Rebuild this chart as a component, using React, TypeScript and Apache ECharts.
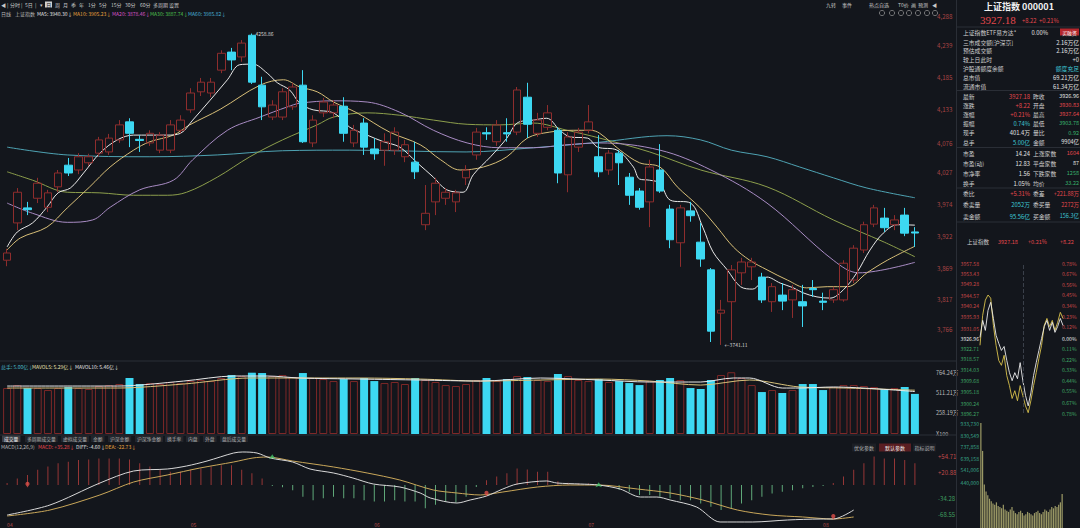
import React, { useEffect, useRef } from "react";
import * as echarts from "echarts";

const BG = "#13161c";
const UP = "#8e2d2d";
const DOWN = "#3dd8f2";
const RED = "#e5484d";
const GREEN = "#38b36c";
const TEAL = "#3ec6d6";
const WHITE = "#e2e2e2";
const GRAY = "#b8b8b8";
const FONT = "'Noto Sans CJK SC', 'Noto Sans', sans-serif";

// daily candles: [open, close, low, high]
const candles: number[][] = [
  [3882, 3894, 3872, 3901], [3944, 3995, 3932, 4002], [3969, 3966, 3957, 3979], [3985, 4010, 3977, 4019],
  [3970, 3994, 3962, 3999], [4004, 4027, 3995, 4032], [4040, 4027, 4022, 4052], [4032, 4054, 4025, 4060],
  [4044, 4054, 4039, 4059], [4060, 4082, 4054, 4087], [4062, 4085, 4057, 4092], [4082, 4107, 4077, 4115],
  [4112, 4093, 4070, 4118], [4083, 4081, 4062, 4090], [4077, 4093, 4072, 4098], [4065, 4090, 4060, 4095],
  [4065, 4107, 4060, 4115], [4098, 4115, 4093, 4123], [4132, 4160, 4127, 4168], [4162, 4178, 4155, 4185],
  [4160, 4178, 4153, 4185], [4198, 4226, 4193, 4231], [4228, 4215, 4198, 4235], [4220, 4243, 4212, 4248],
  [4256, 4178, 4175, 4258.86], [4173, 4137, 4115, 4187], [4120, 4140, 4115, 4148], [4120, 4162, 4115, 4168],
  [4137, 4170, 4132, 4177], [4173, 4079, 4077, 4198], [4077, 4115, 4070, 4123], [4127, 4145, 4120, 4152],
  [4127, 4140, 4118, 4148], [4138, 4093, 4079, 4153], [4077, 4098, 4070, 4107], [4110, 4070, 4057, 4118],
  [4067, 4059, 4049, 4085], [4065, 4079, 4039, 4093], [4065, 4095, 4057, 4103], [4054, 4074, 4045, 4082],
  [4045, 4029, 4017, 4079], [3941, 3960, 3932, 4007], [3979, 4010, 3957, 4019], [3985, 3995, 3974, 4002],
  [3979, 3994, 3962, 3999], [4019, 4032, 4007, 4040], [4057, 4095, 4049, 4102], [4094, 4092, 4082, 4103],
  [4079, 4107, 4072, 4115], [4094, 4092, 4079, 4118], [4095, 4165, 4090, 4170], [4153, 4108, 4085, 4177],
  [4093, 4115, 4087, 4127], [4103, 4127, 4098, 4140], [4098, 4027, 4010, 4103], [4024, 4087, 3995, 4095],
  [4070, 4095, 4062, 4102], [4098, 4112, 4093, 4140], [4054, 4029, 4020, 4090], [4032, 4060, 4024, 4065],
  [4060, 4044, 4007, 4065], [4020, 3990, 3974, 4027], [3997, 3970, 3966, 4002], [3979, 4037, 3937, 4049],
  [4032, 3997, 3994, 4075], [3967, 3916, 3902, 3974], [3911, 3969, 3871, 3974], [3964, 3956, 3946, 3979],
  [3912, 3884, 3871, 3944], [3866, 3764, 3746, 3869], [3794, 3799, 3741.11, 3816], [3813, 3866, 3749, 3874],
  [3861, 3879, 3841, 3886], [3871, 3879, 3849, 3886], [3854, 3816, 3811, 3861], [3813, 3838, 3796, 3844],
  [3824, 3814, 3799, 3844], [3816, 3833, 3786, 3841], [3813, 3806, 3771, 3841], [3835, 3833, 3821, 3849],
  [3814, 3812, 3799, 3828], [3816, 3833, 3811, 3838], [3816, 3877, 3813, 3882], [3849, 3902, 3844, 3907],
  [3899, 3941, 3894, 3946], [3942, 3969, 3937, 3974], [3952, 3936, 3929, 3969], [3941, 3949, 3932, 3957],
  [3957, 3927, 3922, 3969], [3929, 3927.18, 3904, 3937],
];

// moving averages: [candle index, value]
const ma5: number[][] = [[0, 3904], [1, 3929], [2.5, 3944], [3.9, 3970], [5, 3994], [6.2, 4002], [7.5, 4027], [9.1, 4060], [10.8, 4082], [12.4, 4090], [14, 4090], [15.7, 4090], [17, 4093], [18.2, 4115], [19.9, 4148], [21.6, 4182], [22.8, 4207], [24.1, 4208], [25.5, 4193], [26.5, 4177], [27.7, 4165], [28.7, 4143], [30, 4132], [32, 4127], [33.6, 4103], [35.3, 4090], [36.9, 4079], [38.5, 4070], [40.2, 4044], [41.8, 4020], [43.1, 3999], [44.7, 3995], [45.7, 4024], [47.4, 4054], [49, 4085], [50, 4110], [51.6, 4115], [52.9, 4118], [54.2, 4098], [55.2, 4087], [56.9, 4085], [57.9, 4070], [59.8, 4065], [61.4, 4037], [62, 4017], [63, 4015], [64, 4010], [65, 3982], [67, 3977], [68.2, 3937], [69.2, 3896], [70.6, 3866], [71.9, 3838], [73.1, 3834], [74.5, 3854], [75.8, 3844], [77.1, 3836], [78, 3828], [79.4, 3821], [80.7, 3819], [82, 3833], [83.3, 3861], [84.6, 3899], [85.9, 3927], [87.3, 3941], [89, 3940.3]];
const ma10: number[][] = [[0, 3899], [1.3, 3919], [3.9, 3937], [5.9, 3969], [8.1, 4004], [10.1, 4037], [12.4, 4065], [14, 4079], [16.3, 4090], [17.9, 4107], [20.9, 4133], [24.8, 4173], [27.1, 4182], [28.7, 4170], [30.4, 4162], [32, 4145], [34.3, 4127], [37.5, 4095], [40.5, 4074], [42.5, 4049], [44.4, 4032], [46.7, 4037], [49, 4054], [51, 4085], [53.2, 4095], [55.5, 4098], [57.2, 4098], [58.1, 4093], [60.1, 4065], [62, 4044], [64, 4037], [65.7, 4004], [67.9, 3970], [69.6, 3937], [71.2, 3904], [72.8, 3882], [74.5, 3866], [76.5, 3849], [78.4, 3836], [80.4, 3838], [82.4, 3838], [84.3, 3861], [86.3, 3882], [89, 3905.23]];
const ma20: number[][] = [[0, 3977], [2.5, 3960], [5.9, 3945], [8.4, 3949], [10.1, 3970], [13, 3999], [16.3, 4015], [18.2, 4049], [21.6, 4098], [24.8, 4120], [27.5, 4137], [28.7, 4143], [32, 4147], [35.3, 4145], [38.5, 4128], [41.8, 4098], [45.1, 4077], [48.3, 4069], [51.6, 4069], [54.9, 4074], [58.1, 4077], [64, 4065], [69, 4032], [74.5, 3977], [81, 3882], [83.5, 3861], [89, 3878.46]];
const ma30: number[][] = [[0, 4029], [2.5, 4015], [5.9, 3995], [9.1, 3994], [12.4, 3990], [15.7, 3990], [17.6, 3995], [20.6, 4020], [23.8, 4054], [27, 4082], [30.4, 4107], [32, 4120], [35.3, 4127], [38.5, 4123], [41.8, 4115], [45.1, 4108], [48.3, 4107], [51.6, 4110], [54.9, 4098], [58.1, 4085], [63, 4062], [68, 4032], [74.5, 4004], [81, 3949], [86, 3912], [89, 3887.74]];
const ma60: number[][] = [[0, 4070], [5.9, 4057], [14, 4054], [20.6, 4057], [27, 4064], [33.6, 4065], [45, 4062], [51.6, 4069], [58, 4078], [64.7, 4089], [68, 4082], [71, 4065], [74.5, 4054], [77.7, 4037], [81, 4019], [84.3, 4002], [89, 3985.82]];

const priceTicks = [3766, 3817, 3869, 3922, 3974, 4027, 4076, 4133, 4185, 4239, 4288];

// volume (万手 x100)
const volumes = [573, 610, 573, 573, 548, 573, 586, 573, 561, 598, 610, 623, 698, 623, 635, 623, 648, 635, 660, 673, 660, 698, 735, 723, 770, 760, 723, 735, 710, 760, 698, 685, 660, 685, 660, 698, 660, 635, 648, 623, 698, 673, 648, 610, 598, 623, 673, 698, 660, 685, 723, 710, 673, 660, 748, 723, 673, 660, 685, 648, 660, 635, 610, 660, 673, 698, 673, 573, 561, 673, 735, 770, 698, 610, 523, 548, 511, 548, 623, 623, 548, 586, 610, 610, 598, 586, 561, 573, 586, 500];
const mavol5: number[][] = [[0, 598], [10.8, 598], [17.3, 660], [22.2, 723], [25.5, 723], [28.7, 698], [34.6, 685], [40.5, 673], [46.4, 660], [52.3, 698], [58.1, 673], [63, 648], [68, 648], [71.2, 698], [72.8, 698], [76, 573], [77.7, 573], [81, 586], [89, 529]];
const mavol10: number[][] = [[0, 573], [10.8, 573], [17.3, 623], [23.8, 698], [28.7, 698], [34.6, 698], [40.5, 685], [46.4, 660], [52.3, 673], [58.1, 685], [63, 660], [68, 610], [72.8, 673], [77.7, 586], [82.3, 573], [89, 546]];
const volTicks = [0, 258.19, 511.21, 764.24];
const volTickLabels = ["X100", "258.19万", "511.21万", "764.24万"];

// MACD
const macdBars = [4, 14, 21, 32, 39, 46, 49, 53, 54, 56, 56, 56, 54, 46, 39, 32, 28, 28, 32, 35, 39, 42, 42, 32, 25, 14, -2, -5, -11, -25, -32, -28, -25, -28, -28, -32, -35, -35, -32, -35, -35, -49, -42, -35, -37, -25, -4, 10, 18, 25, 35, 33, 28, 28, 8, 5, 3, 3, -1, -3, -10, -14, -21, -21, -25, -28, -32, -32, -39, -46, -53, -49, -39, -32, -25, -18, -14, -11, -7, -4, -2, 4, 18, 32, 46, 60, 56, 56, 53, 46];
const diffLine: number[][] = [[0, -63.4], [4.2, -42.3], [9.1, 4.2], [12.4, 29.6], [15.7, 33.8], [17.6, 40.2], [19.6, 50.7], [22.2, 67.6], [23.1, 69.8], [24.5, 67.6], [25.8, 57.1], [28, 48.6], [29.7, 33.8], [32, 25.4], [33.9, 14.8], [35.9, 2.1], [38.5, -4.2], [40.5, -16.9], [41.5, -27.5], [44.1, -38.1], [45.4, -31.7], [47, -23.3], [48.6, -8.5], [50, 2.1], [52.9, 8.5], [53.9, 4.2], [56.2, 2.1], [58, 0], [60.1, -8.5], [62.1, -25.4], [63.7, -25.4], [65, -31.7], [67.6, -46.5], [69.9, -78.2], [73.1, -78.2], [76.5, -74], [79.7, -71.9], [81, -71.9], [83, -52.9]];
const deaLine: number[][] = [[0, -65.5], [4.2, -52.9], [9.1, -21.1], [12.4, 6.3], [15.7, 21.1], [18.9, 35.9], [22.2, 48.6], [24.1, 57.1], [25.5, 59.2], [28, 50.7], [32, 38.1], [35.3, 25.4], [38.5, 10.6], [41.8, -10.6], [44.1, -16.9], [46.4, -21.1], [48.6, -14.8], [52, -4.2], [55.2, 0], [58, 0], [61.8, -8.5], [65, -16.9], [68.2, -31.7], [71.6, -52.9], [74.8, -63.4], [78, -67.6], [81, -71.9], [83, -67.6]];
const goldSignals: number[][] = [[2, -6], [47, -25], [81, -74]];
const deadSignals: number[][] = [[26, 65], [58, 6]];
const macdTicks = [54.71, 20.88, -34.28, -68.55];
const macdTickLabels = ["+54.71", "+20.88", "-34.28", "-68.55"];
const monthIdx = [0, 18, 36, 57, 80];
const monthLabels = ["04", "05", "06", "07", "08"];

// intraday
const intradayPrice = [3927.2, 3934.2, 3930.1, 3938.3, 3941.6, 3935.0, 3928.1, 3924.8, 3921.9, 3923.5, 3917.8, 3912.8, 3909.5, 3912.8, 3910.3, 3916.9, 3909.5, 3903.4, 3899.2, 3904.5, 3911.6, 3916.9, 3921.9, 3926.8, 3931.7, 3934.2, 3930.1, 3933.4, 3929.3, 3931.7, 3935.0, 3932.1];
const intradayAvg = [3924.0, 3936.3, 3942.5, 3944.6, 3943.3, 3932.2, 3924.0, 3917.8, 3915.8, 3919.9, 3911.6, 3907.5, 3902.2, 3905.4, 3901.3, 3907.5, 3903.4, 3899.2, 3896.4, 3901.3, 3907.5, 3912.8, 3918.6, 3924.0, 3932.2, 3935.0, 3931.7, 3934.2, 3930.1, 3933.4, 3937.5, 3935.0];
const intradayVol = [933000, 700000, 420000, 360000, 330000, 300000, 280000, 260000, 250000, 270000, 240000, 230000, 220000, 250000, 210000, 200000, 190000, 210000, 230000, 200000, 180000, 170000, 190000, 200000, 180000, 160000, 170000, 190000, 180000, 170000, 160000, 180000, 190000, 200000, 180000, 170000, 190000, 210000, 200000, 190000, 210000, 230000, 220000, 240000, 230000, 250000, 270000, 340000];
const intradayTicks = [3957.58, 3953.43, 3949.28, 3944.57, 3940.24, 3935.93, 3931.05, 3926.96, 3922.71, 3918.57, 3914.03, 3909.68, 3905.18, 3900.24, 3896.27];
const pctTicks = [0.78, 0.67, 0.56, 0.45, 0.34, 0.23, 0.12, 0, -0.11, -0.22, -0.33, -0.44, -0.55, -0.67, -0.78];
const ivTicks = [933730, 830549, 737858, 639158, 541006, 440000];

// texts
const toolbarLeft: [string, number][] = [["◀", 1], ["|", 7], ["分时", 10], ["|", 21], ["5日", 25], ["|", 35], ["▾", 40], ["周", 55], ["月", 63], ["季", 71], ["年", 79], ["1分", 88], ["5分", 99], ["15分", 111], ["30分", 125], ["60分", 140], ["多周期", 153], ["设置", 169]];
const toolbarRight: [string, number][] = [["九转", 826], ["事件", 842], ["热点自选", 869], ["T0价", 898], ["画", 911], ["预测", 918], ["◀", 932]];
const maTitle: [string, number, string][] = [["日线", 1, GRAY], ["上证指数", 15, GRAY], ["MA5: 3940.30↓", 37, "#e0e0e0"], ["MA10: 3905.23↓", 73, "#e6a23c"], ["MA20: 3878.46↓", 112, "#d955c8"], ["MA30: 3887.74↓", 150, "#4ec04e"], ["MA60: 3985.82↓", 188, "#47b0d8"]];
const volTitle: [string, number, string][] = [["总手: 5.00亿↓", 1, "#48b8c8"], ["MAVOL5: 5.29亿↓", 32, "#e8e0b0"], ["MAVOL10: 5.46亿↓", 75, "#e0e0e0"]];
const macdTitle: [string, number, string][] = [["MACD(12,26,9)", 1, GRAY], ["MACD: +35.28↓", 38, RED], ["DIFF: -4.60↓", 76, "#e0e0e0"], ["DEA: -22.73↓", 105, "#e6a23c"]];
const tabs = ["成交量", "多周期成交量", "虚拟成交量", "金额", "沪深金额", "沪深净金额", "换手率", "内盘", "外盘", "盘后成交量"];
const tabX = [2, 25, 61, 91, 108, 135, 165, 186, 203, 220];
const macdButtons: [string, number, number, string][] = [["优化参数", 852, 24, "#1c1f25"], ["默认参数", 879, 32, "#5a1e22"], ["指标说明", 913, 23, "#1c1f25"]];

const quoteTop: [string, string, string][] = [
  ["上证指数ETF易方达*", "0.00%", WHITE], ["三市成交额[沪深京]", "2.16万亿", WHITE], ["预估成交额", "2.16万亿", WHITE],
  ["较上日此时", "+0", WHITE], ["沪股通额度余额", "额度充足", TEAL], ["总市值", "69.21万亿", WHITE], ["流通市值", "61.34万亿", WHITE],
];
const quoteTopY = [32, 42, 50.5, 59, 68, 77, 86];
const quoteRows: [string, string, string, string, string, string][] = [
  ["最新", "3927.18", RED, "昨收", "3926.96", WHITE], ["涨跌", "+8.22", RED, "开盘", "3930.83", RED],
  ["涨幅", "+0.21%", RED, "最高", "3937.64", RED], ["振幅", "0.74%", TEAL, "最低", "3903.78", GREEN],
  ["现手", "401.4万", WHITE, "量比", "0.92", GREEN], ["总手", "5.00亿", TEAL, "金额", "9904亿", WHITE],
  ["市盈", "14.24", WHITE, "上涨家数", "1604", RED], ["市盈(动)", "12.83", WHITE, "平盘家数", "87", WHITE],
  ["市净率", "1.56", WHITE, "下跌家数", "1258", GREEN], ["换手", "1.05%", WHITE, "均价", "33.22", GREEN],
  ["委比", "+5.31%", RED, "委差", "+221.88万", RED], ["委卖量", "2052万", TEAL, "委买量", "2272万", RED],
  ["卖金额", "95.56亿", TEAL, "买金额", "156.3亿", TEAL],
];
const quoteRowsY = [96, 105, 114, 123, 132.5, 142, 153, 163, 173, 183, 193.5, 204.5, 216];

function txt(text: string, x: number, y: number, fill: string, size = 5.8, align = "left", weight = "normal", family = FONT) {
  return {
    type: "text", x, y, silent: true, z: 10,
    style: { text, fill, fontSize: size, fontFamily: family, fontWeight: weight, align, textAlign: align, verticalAlign: "middle", textVerticalAlign: "middle" },
  };
}
function hline(x1: number, x2: number, y: number, stroke = "#2a2e36") {
  return { type: "line", silent: true, z: 1, shape: { x1, y1: y, x2, y2: y }, style: { stroke, lineWidth: 1 } };
}
function box(x: number, y: number, w: number, h: number, fill: string) {
  return { type: "rect", silent: true, z: 5, shape: { x, y, width: w, height: h }, style: { fill } };
}

function buildOption() {
  const N = candles.length;
  const idx = candles.map((_, i) => String(i));
  const isUp = (c: number[]) => c[1] >= c[0];
  const volData = volumes.map((v, i) => ({
    value: v,
    itemStyle: isUp(candles[i]) ? { color: "rgba(0,0,0,0)", borderColor: "#7e2828", borderWidth: 1 } : { color: DOWN },
  }));
  const macdData = macdBars.map((v) => ({ value: v, itemStyle: { color: v >= 0 ? "#963636" : "#5fa879" } }));
  const hidden = { show: false };
  const noAxis = { axisLine: hidden, axisTick: hidden, splitLine: hidden };
  const valX = (gridIndex: number) => ({ type: "value", gridIndex, min: -0.5, max: N - 0.5, show: false });
  const catX = (gridIndex: number) => ({ type: "category", gridIndex, data: idx, boundaryGap: true, show: false });
  const maLine = (name: string, data: number[][], color: string) => ({
    name, type: "line", xAxisIndex: 1, yAxisIndex: 0, data, symbol: "none", smooth: 0.35,
    lineStyle: { width: 1, color }, z: 3, silent: true,
  });

  const graphic: any[] = [];
  graphic.push({ type: "line", silent: true, z: 1, shape: { x1: 956.5, y1: 0, x2: 956.5, y2: 528 }, style: { stroke: "#2a2e36", lineWidth: 1 } });
  graphic.push(hline(0, 956, 361));
  graphic.push(hline(0, 956, 435));
  toolbarLeft.forEach(([t, x]) => graphic.push(txt(t, x, 4.5, "#c8c8c8", 5)));
  graphic.push(box(45, 1.5, 7, 6, "#d0d0d0"));
  graphic.push(txt("日", 46.2, 4.6, "#13161c", 5));
  toolbarRight.forEach(([t, x]) => graphic.push(txt(t, x, 4.5, "#c8c8c8", 5)));
  [882, 892, 901, 909, 918, 927, 935].forEach((x) =>
    graphic.push({ type: "circle", silent: true, z: 10, shape: { cx: x, cy: 13, r: 2.6 }, style: { fill: "none", stroke: "#9a9a9a", lineWidth: 0.7 } })
  );
  maTitle.forEach(([t, x, c]) => graphic.push(txt(t, x, 13, c, 5)));
  volTitle.forEach(([t, x, c]) => graphic.push(txt(t, x, 366, c, 5)));
  tabs.forEach((t, i) => {
    const w = t.length * 4.8 + 4;
    graphic.push(box(tabX[i], 435.5, w, 6.5, i === 0 ? "#3b3e45" : "#22252b"));
    graphic.push(txt(t, tabX[i] + 2, 438.8, i === 0 ? "#f0f0f0" : "#b0b0b0", 4.8));
  });
  macdTitle.forEach(([t, x, c]) => graphic.push(txt(t, x, 446, c, 5)));
  macdButtons.forEach(([t, x, w, bg]) => {
    graphic.push(box(x, 443.5, w, 8, bg));
    graphic.push(txt(t, x + w / 2, 447.5, t === "默认参数" ? "#f0f0f0" : "#b0b0b0", 5, "center"));
  });

  // right quote panel
  graphic.push(txt("上证指数 000001", 1019, 6.5, "#f0f0f0", 9, "center", "bold"));
  graphic.push(txt("3927.18", 980, 20, RED, 11, "left", "normal", "'Liberation Serif', serif"));
  graphic.push(txt("+8.22", 1022, 20.5, RED, 5.8));
  graphic.push(txt("+0.21%", 1039, 20.5, RED, 5.8));
  [27, 90.5, 147.5, 188, 222].forEach((y) => graphic.push(hline(957, 1080, y)));
  quoteTop.forEach(([l, v, c], i) => {
    graphic.push(txt(l, 963, quoteTopY[i], "#d0d0d0", 5.8));
    if (i === 0) {
      graphic.push(txt(v, 1048, quoteTopY[i], WHITE, 5.8, "right"));
      graphic.push(box(1060, quoteTopY[i] - 3.5, 19, 7, "#b3262c"));
      graphic.push(txt("买融资", 1069.5, quoteTopY[i], "#ffffff", 4.8, "center"));
    } else {
      graphic.push(txt(v, 1079, quoteTopY[i], c, 5.8, "right"));
    }
  });
  quoteRows.forEach(([l1, v1, c1, l2, v2, c2], i) => {
    const y = quoteRowsY[i];
    graphic.push(txt(l1, 963, y, "#d0d0d0", 5.8));
    graphic.push(txt(v1, 1030, y, c1, 5.8, "right"));
    graphic.push(txt(l2, 1033, y, "#d0d0d0", 5.8));
    graphic.push(txt(v2, 1079, y, c2, 5.5, "right"));
  });
  graphic.push(txt("上证指数", 967, 242, "#d0d0d0", 5.5));
  graphic.push(txt("3927.18", 998, 242, RED, 5.5));
  graphic.push(txt("+0.21%", 1028, 242, RED, 5.5));
  graphic.push(txt("+8.22", 1060, 242, RED, 5.5));

  const smallLabel = { fontSize: 6, fontFamily: FONT };

  return {
    animation: false,
    backgroundColor: BG,
    textStyle: { fontFamily: FONT },
    grid: [
      { left: 2, top: 10, width: 918, height: 345, containLabel: false, outerBoundsMode: "none" },
      { left: 2, top: 372.7, width: 918, height: 61.3, containLabel: false, outerBoundsMode: "none" },
      { left: 2, top: 450, width: 918, height: 78, containLabel: false, outerBoundsMode: "none" },
      { left: 980, top: 263.3, width: 83, height: 149.7, containLabel: false, outerBoundsMode: "none" },
      { left: 980, top: 423, width: 83, height: 111.6, containLabel: false, outerBoundsMode: "none" },
    ],
    xAxis: [
      catX(0),
      valX(0),
      catX(1),
      valX(1),
      {
        type: "category", gridIndex: 2, data: idx, boundaryGap: true, position: "bottom",
        ...noAxis,
        axisLabel: {
          show: true, inside: true, margin: 1, color: "#b04a4a", fontSize: 5, align: "left",
          interval: (i: number) => monthIdx.includes(i),
          formatter: (v: string) => { const k = monthIdx.indexOf(Number(v)); return k >= 0 ? monthLabels[k] : ""; },
        },
      },
      valX(2),
      { type: "category", gridIndex: 3, data: intradayPrice.map((_, i) => String(i)), boundaryGap: false, show: false },
      { type: "category", gridIndex: 4, data: intradayVol.map((_, i) => String(i)), boundaryGap: true, show: false },
    ],
    yAxis: [
      {
        type: "value", gridIndex: 0, position: "right", min: 3724.4, max: 4298, ...noAxis,
        axisLabel: { ...smallLabel, fontSize: 6.2, color: "#a84444", margin: 17, customValues: priceTicks, showMinLabel: true, showMaxLabel: true },
      },
      {
        type: "value", gridIndex: 1, position: "right", min: 0, max: 764.24, ...noAxis,
        axisLabel: {
          ...smallLabel, fontSize: 5.5, color: "#bdbdbd", margin: 16, customValues: volTicks,
          formatter: (v: number) => { const k = volTicks.indexOf(v); return k >= 0 ? volTickLabels[k] : ""; },
        },
      },
      {
        type: "value", gridIndex: 2, position: "right", min: -90.9, max: 74, ...noAxis,
        axisLabel: {
          ...smallLabel, margin: 18, customValues: macdTicks, verticalAlign: "bottom",
          color: (v: any) => (Number(v) > 0 ? "#c24a4a" : "#3f9f5f"),
          formatter: (v: number) => { const k = macdTicks.indexOf(v); return k >= 0 ? macdTickLabels[k] : ""; },
        },
      },
      {
        type: "value", gridIndex: 3, position: "left", min: 3896.27, max: 3957.58, ...noAxis,
        axisLabel: {
          fontSize: 5.1, fontFamily: FONT, margin: 1, customValues: intradayTicks,
          formatter: (v: number) => v.toFixed(2),
          color: (v: any) => (Number(v) > 3926.96 ? "#c84848" : Number(v) < 3926.96 ? "#3fa765" : "#e8e8e8"),
        },
      },
      {
        type: "value", gridIndex: 3, position: "right", min: -0.78, max: 0.78, ...noAxis,
        axisLabel: {
          fontSize: 5.1, fontFamily: FONT, margin: -1, customValues: pctTicks,
          formatter: (v: number) => Math.abs(v).toFixed(2) + "%",
          color: (v: any) => (Number(v) > 0 ? "#c84848" : Number(v) < 0 ? "#3fa765" : "#e8e8e8"),
        },
      },
      {
        type: "value", gridIndex: 4, position: "left", min: 0, max: 933730, ...noAxis,
        axisLabel: { fontSize: 5.1, fontFamily: FONT, margin: 1, color: "#38a58a", customValues: ivTicks },
      },
    ],
    series: [
      {
        name: "K", type: "candlestick", xAxisIndex: 0, yAxisIndex: 0, data: candles, barWidth: "78%", z: 4,
        itemStyle: { color: "rgba(0,0,0,0)", color0: DOWN, borderColor: UP, borderColor0: DOWN, borderWidth: 1 },
        markPoint: {
          silent: true, symbol: "circle", symbolSize: 1, itemStyle: { color: "rgba(0,0,0,0)" },
          label: { show: true, position: "right", distance: 3, color: "#d8d8d8", fontSize: 5, fontFamily: FONT },
          data: [
            { coord: [24, 4258.86], value: 4258.86, label: { formatter: "4258.86" } },
            { coord: [70, 3741.11], value: 3741.11, label: { formatter: "←3741.11" } },
          ],
        },
      },
      maLine("MA60", ma60, "#4fa3b3"),
      maLine("MA30", ma30, "#8d9f4c"),
      maLine("MA20", ma20, "#a98cc4"),
      maLine("MA10", ma10, "#d8bf78"),
      maLine("MA5", ma5, "#e8e8e8"),
      { name: "VOL", type: "bar", xAxisIndex: 2, yAxisIndex: 1, data: volData, barWidth: "78%", silent: true },
      { name: "MAVOL10", type: "line", xAxisIndex: 3, yAxisIndex: 1, data: mavol10, symbol: "none", smooth: 0.3, lineStyle: { width: 1, color: "#d8c27a" }, silent: true },
      { name: "MAVOL5", type: "line", xAxisIndex: 3, yAxisIndex: 1, data: mavol5, symbol: "none", smooth: 0.3, lineStyle: { width: 1, color: "#e8e8e8" }, silent: true },
      { name: "MACD", type: "bar", xAxisIndex: 4, yAxisIndex: 2, data: macdData, barWidth: 1, silent: true },
      { name: "DEA", type: "line", xAxisIndex: 5, yAxisIndex: 2, data: deaLine, symbol: "none", smooth: 0.3, lineStyle: { width: 1, color: "#c9a75a" }, silent: true },
      { name: "DIFF", type: "line", xAxisIndex: 5, yAxisIndex: 2, data: diffLine, symbol: "none", smooth: 0.3, lineStyle: { width: 1, color: "#d8d8d8" }, silent: true },
      { name: "gold", type: "scatter", xAxisIndex: 5, yAxisIndex: 2, data: goldSignals, symbol: "pin", symbolSize: 7, itemStyle: { color: "#e0504a" }, silent: true, z: 6 },
      { name: "dead", type: "scatter", xAxisIndex: 5, yAxisIndex: 2, data: deadSignals, symbol: "arrow", symbolSize: 5, itemStyle: { color: "#46c46a" }, silent: true, z: 6 },
      {
        name: "avg", type: "line", xAxisIndex: 6, yAxisIndex: 3, data: intradayAvg, symbol: "none", lineStyle: { width: 0.9, color: "#d9c24c" }, silent: true,
        markLine: { silent: true, symbol: "none", label: { show: false }, lineStyle: { type: "dashed", color: "#3a404a", width: 1 }, data: [{ xAxis: 16 }] },
      },
      { name: "price", type: "line", xAxisIndex: 6, yAxisIndex: 3, data: intradayPrice, symbol: "none", lineStyle: { width: 0.9, color: "#ececec" }, silent: true },
      { name: "ivol", type: "bar", xAxisIndex: 7, yAxisIndex: 5, data: intradayVol, barWidth: "70%", itemStyle: { color: "#b3af72", opacity: 0.85 }, silent: true },
    ],
    graphic,
  };
}

export default function App() {
  const ref = useRef<HTMLDivElement>(null);
  useEffect(() => {
    document.body.style.margin = "0";
    document.body.style.background = BG;
    const chart = echarts.init(ref.current as HTMLDivElement, null, { renderer: "svg" });
    chart.setOption(buildOption() as any);
    return () => chart.dispose();
  }, []);
  return <div ref={ref} style={{ position: "fixed", left: 0, top: 0, width: 1080, height: 528, background: BG }} />;
}
